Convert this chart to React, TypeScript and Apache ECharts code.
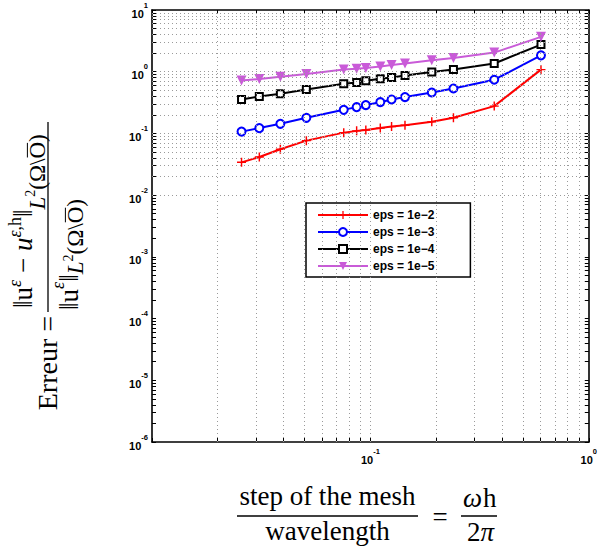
import React, { useEffect, useRef } from 'react';
import * as echarts from 'echarts';

// ---- data ----
const stepValues = [0.0257, 0.031, 0.0387, 0.0509, 0.0755, 0.0865, 0.0953, 0.111, 0.125, 0.144, 0.191, 0.240, 0.369, 0.604];
const errEps2 = [0.034, 0.0415, 0.0553, 0.0764, 0.103, 0.110, 0.114, 0.122, 0.129, 0.136, 0.154, 0.179, 0.277, 1.08];
const errEps3 = [0.107, 0.122, 0.143, 0.179, 0.241, 0.267, 0.288, 0.321, 0.355, 0.388, 0.460, 0.535, 0.741, 1.84];
const errEps4 = [0.355, 0.396, 0.438, 0.515, 0.638, 0.670, 0.714, 0.769, 0.807, 0.871, 0.988, 1.09, 1.36, 2.75];
const errEps5 = [0.723, 0.760, 0.830, 0.917, 1.09, 1.12, 1.15, 1.22, 1.28, 1.36, 1.53, 1.67, 2.04, 3.67];
const seriesNames = ['eps = 1e\u22122', 'eps = 1e\u22123', 'eps = 1e\u22124', 'eps = 1e\u22125'];

// ---- axes: decades (exponents) and minor multipliers ----
const xDecades = [-2, -1];
const xMaxExp = 0;
const yDecades = [-6, -5, -4, -3, -2, -1, 0];
const yMaxExp = 1;
const multipliers = [1, 2, 3, 4, 5, 6, 7, 8, 9];

const SERIF = '"Liberation Serif", "DejaVu Serif", serif';
const SANS = '"Liberation Sans", Arial, sans-serif';

let measureCtx: CanvasRenderingContext2D | null = null;
function textWidth(t: string, font: string): number {
  if (!measureCtx) measureCtx = document.createElement('canvas').getContext('2d');
  if (!measureCtx) return t.length * 10;
  measureCtx.font = font;
  return measureCtx.measureText(t).width;
}

type Piece = { t: string; size: number; dv: number; italic?: boolean; over?: boolean; gap?: number };

function layoutPieces(pieces: Piece[], u0: number, out: any[]): number {
  let u = u0;
  for (const p of pieces) {
    u += p.gap || 0;
    const font = `${p.italic ? 'italic ' : ''}${p.size}px ${SERIF}`;
    const w = textWidth(p.t, font);
    out.push({
      type: 'text',
      x: u,
      y: p.dv - 0.3375 * p.size,
      style: { text: p.t, font, fill: '#000', textAlign: 'left', textVerticalAlign: 'middle' },
    });
    if (p.over) {
      const oy = p.dv - 0.7 * p.size - 1.5;
      out.push({
        type: 'line',
        shape: { x1: u + 1, y1: oy, x2: u + w - 1, y2: oy },
        style: { stroke: '#000', lineWidth: 1 },
      });
    }
    u += w;
  }
  return u;
}

function buildOption() {
  const xGridValues: number[] = [];
  const xTickLogs: number[] = [];
  xDecades.forEach((d) =>
    multipliers.forEach((k) => {
      const v = k * Math.pow(10, d);
      if (!(d === xDecades[0] && k === 1)) xGridValues.push(v);
      xTickLogs.push(d + Math.log10(k));
    })
  );
  xTickLogs.push(xMaxExp);

  const yGridValues: number[] = [];
  const yTickLogs: number[] = [];
  yDecades.forEach((d) =>
    multipliers.forEach((k) => {
      const v = k * Math.pow(10, d);
      if (!(d === yDecades[0] && k === 1)) yGridValues.push(v);
      yTickLogs.push(d + Math.log10(k));
    })
  );
  yTickLogs.push(yMaxExp);

  const rich = {
    b: { fontFamily: SANS, fontWeight: 'bold', fontSize: 11, color: '#000', lineHeight: 18, verticalAlign: 'bottom' },
    s: { fontFamily: SANS, fontWeight: 'bold', fontSize: 7.5, color: '#000', lineHeight: 9, verticalAlign: 'top' },
  };
  const frameLine = { show: true, onZero: false, lineStyle: { color: '#000', width: 1.6 } };
  const tickStyle = (vals: number[]) => ({
    show: true, inside: true, length: 4, customValues: vals, lineStyle: { color: '#000', width: 1 },
  });

  const xMin = Math.pow(10, xDecades[0]);
  const xMax = Math.pow(10, xMaxExp);
  const yMin = Math.pow(10, yDecades[0]);
  const yMax = Math.pow(10, yMaxExp);

  const mk = (name: string, vals: number[], color: string, symbol: string, size: number, extra: any = {}) => ({
    name,
    type: 'line',
    xAxisIndex: 0,
    yAxisIndex: 0,
    data: stepValues.map((x, i) => [x, vals[i]]),
    symbol,
    symbolSize: size,
    showSymbol: true,
    showAllSymbol: true,
    lineStyle: { color, width: 2 },
    itemStyle: { color, borderColor: color, borderWidth: 1.7 },
    z: 3,
    ...extra,
  });

  // y-axis title (rotated group)
  const yTitle: any[] = [];
  const NB = -16;
  layoutPieces(
    [
      { t: '\u2016', size: 27, dv: NB },
      { t: 'u', size: 27, dv: NB },
      { t: '\u03b5', size: 18, dv: -27, italic: true },
      { t: ' \u2212 ', size: 27, dv: NB },
      { t: 'u', size: 27, dv: NB, italic: true },
      { t: '\u03b5', size: 18, dv: -27, italic: true },
      { t: ',h', size: 18, dv: -27 },
      { t: '\u2016', size: 27, dv: NB },
      { t: 'L', size: 23, dv: -3, italic: true },
      { t: '2', size: 14, dv: -13 },
      { t: '(\u03a9\\', size: 23, dv: -3 },
      { t: 'O', size: 23, dv: -3, over: true },
      { t: ')', size: 23, dv: -3 },
    ],
    4,
    yTitle
  );
  const DB = 30;
  layoutPieces(
    [
      { t: '\u2016', size: 27, dv: DB },
      { t: 'u', size: 27, dv: DB },
      { t: '\u03b5', size: 18, dv: 16, italic: true },
      { t: '\u2016', size: 27, dv: DB },
      { t: 'L', size: 23, dv: 35, italic: true },
      { t: '2', size: 14, dv: 25 },
      { t: '(\u03a9\\', size: 23, dv: 35 },
      { t: 'O', size: 23, dv: 35, over: true },
      { t: ')', size: 23, dv: 35 },
    ],
    2,
    yTitle
  );
  yTitle.push({ type: 'line', shape: { x1: 0, y1: 0, x2: 190, y2: 0 }, style: { stroke: '#000', lineWidth: 1.3 } });
  yTitle.push({
    type: 'text',
    x: -4,
    y: 9 - 0.3375 * 28,
    style: { text: 'Erreur =', font: `28px ${SERIF}`, fill: '#000', textAlign: 'right', textVerticalAlign: 'middle' },
  });

  // x-axis title
  const xTitle: any[] = [];
  xTitle.push({
    type: 'text', x: 327.5, y: 505 - 0.3375 * 27,
    style: { text: 'step of the mesh', font: `27px ${SERIF}`, fill: '#000', textAlign: 'center', textVerticalAlign: 'middle' },
  });
  xTitle.push({ type: 'line', shape: { x1: 237, y1: 516, x2: 418, y2: 516 }, style: { stroke: '#000', lineWidth: 1.3 } });
  xTitle.push({
    type: 'text', x: 327.5, y: 540 - 0.3375 * 27,
    style: { text: 'wavelength', font: `27px ${SERIF}`, fill: '#000', textAlign: 'center', textVerticalAlign: 'middle' },
  });
  xTitle.push({
    type: 'text', x: 440, y: 526.5 - 0.3375 * 27,
    style: { text: '=', font: `27px ${SERIF}`, fill: '#000', textAlign: 'center', textVerticalAlign: 'middle' },
  });
  const num: any[] = [];
  layoutPieces([{ t: '\u03c9', size: 27, dv: 0, italic: true }, { t: 'h', size: 27, dv: 0, gap: 1 }], 0, num);
  const den: any[] = [];
  layoutPieces([{ t: '2', size: 27, dv: 0 }, { t: '\u03c0', size: 27, dv: 0, italic: true }], 0, den);
  xTitle.push({ type: 'group', x: 463, y: 507, children: num });
  xTitle.push({ type: 'line', shape: { x1: 461, y1: 516, x2: 497, y2: 516 }, style: { stroke: '#000', lineWidth: 1.3 } });
  xTitle.push({ type: 'group', x: 467, y: 541, children: den });

  return {
    animation: false,
    backgroundColor: '#fff',
    grid: { left: 152, right: 6, top: 10, bottom: 110, containLabel: false },
    legend: {
      data: seriesNames,
      orient: 'vertical',
      left: 306,
      top: 203,
      padding: [6, 36, 5, 11],
      itemGap: 5,
      itemWidth: 50,
      itemHeight: 10,
      backgroundColor: '#fff',
      borderColor: '#000',
      borderWidth: 1.5,
      borderRadius: 0,
      selectedMode: false,
      textStyle: { fontFamily: SANS, fontWeight: 'bold', fontSize: 12, color: '#000' },
    },
    xAxis: [
      { type: 'log', logBase: 10, min: xMin, max: xMax, show: false },
      {
        type: 'value', min: xDecades[0], max: xMaxExp, interval: 1, position: 'bottom',
        axisLine: frameLine, axisTick: tickStyle(xTickLogs), splitLine: { show: false },
        axisLabel: {
          show: true, margin: 5, showMinLabel: true, showMaxLabel: true, rich,
          formatter: (v: number) => (v === xDecades[0] ? '' : `{b|10}{s|${v}}`),
        },
      },
      {
        type: 'value', min: xDecades[0], max: xMaxExp, interval: 1, position: 'top',
        axisLine: frameLine, axisTick: tickStyle(xTickLogs), splitLine: { show: false }, axisLabel: { show: false },
      },
    ],
    yAxis: [
      { type: 'log', logBase: 10, min: yMin, max: yMax, show: false },
      {
        type: 'value', min: yDecades[0], max: yMaxExp, interval: 1, position: 'left',
        axisLine: frameLine, axisTick: tickStyle(yTickLogs), splitLine: { show: false },
        axisLabel: {
          show: true, margin: 4, showMinLabel: true, showMaxLabel: true, rich,
          formatter: (v: number) => `{b|10}{s|${v}}`,
        },
      },
      {
        type: 'value', min: yDecades[0], max: yMaxExp, interval: 1, position: 'right',
        axisLine: frameLine, axisTick: tickStyle(yTickLogs), splitLine: { show: false }, axisLabel: { show: false },
      },
    ],
    series: [
      {
        type: 'line', name: 'grid', xAxisIndex: 0, yAxisIndex: 0, data: [[0.1, 0.001]],
        symbol: 'none', lineStyle: { opacity: 0 }, silent: true, z: 1,
        markLine: {
          silent: true, symbol: ['none', 'none'], label: { show: false }, animation: false,
          emphasis: { disabled: true },
          lineStyle: { color: '#9a9a9a', type: [1, 3], width: 1 },
          data: [...xGridValues.map((v) => ({ xAxis: v })), ...yGridValues.map((v) => ({ yAxis: v }))],
        },
      },
      mk(seriesNames[0], errEps2, '#ff0000', 'path://M0,4.2H10V5.8H0Z M4.2,0H5.8V10H4.2Z', 9, {
        itemStyle: { color: '#ff0000', borderWidth: 0 },
      }),
      mk(seriesNames[1], errEps3, '#0000ff', 'emptyCircle', 8),
      mk(seriesNames[2], errEps4, '#000000', 'emptyRect', 7),
      mk(seriesNames[3], errEps5, '#c95bd8', 'triangle', 10, {
        symbolRotate: 180,
        itemStyle: { color: '#c95bd8', borderWidth: 0 },
      }),
    ],
    graphic: {
      elements: [
        { type: 'group', x: 48, y: 312, rotation: Math.PI / 2, children: yTitle },
        ...xTitle,
      ],
    },
  };
}

export default function App() {
  const ref = useRef<HTMLDivElement>(null);
  useEffect(() => {
    if (!ref.current) return;
    const chart = echarts.init(ref.current, undefined, { renderer: 'svg' });
    chart.setOption(buildOption() as any);
    return () => chart.dispose();
  }, []);
  return (
    <div
      ref={ref}
      style={{ position: 'fixed', left: 0, top: 0, width: 600, height: 552, background: '#fff' }}
    />
  );
}
